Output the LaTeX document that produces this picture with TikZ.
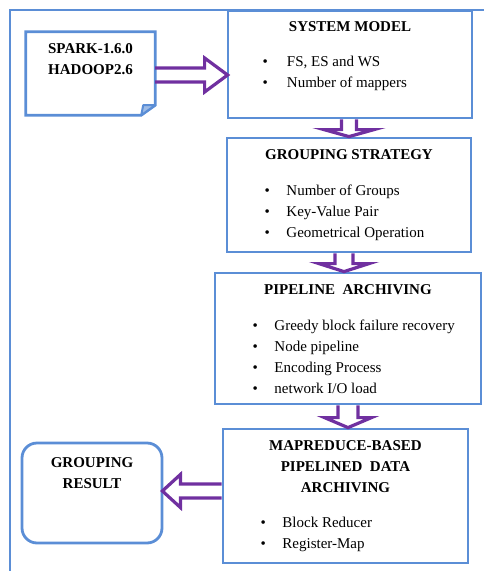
\documentclass[tikz,border=0pt]{standalone}
\usepackage{fontspec}
\setmainfont{Liberation Serif}
\usetikzlibrary{calc}
\definecolor{bordblue}{HTML}{5B8ED6}
\definecolor{arrpurple}{HTML}{7030A0}
\newcommand{\mylist}[2]{\begin{tabular}[t]{@{}l@{\hspace{#1}}l@{}}#2\end{tabular}}
\newcommand{\mytitle}[1]{\begin{tabular}[t]{@{}c@{}}#1\end{tabular}}
\newcommand{\vharrow}[6]{%
  \draw[harrow] let \p1=($(#1.south)+(#3,0)$), \p2=(#2.north) in
    (\x1-#4,\y1) -- (\x1-#4,\y2+#6) -- (\x1-#5,\y2+#6) -- (\x1,\y2)
    -- (\x1+#5,\y2+#6) -- (\x1+#4,\y2+#6) -- (\x1+#4,\y1);}
\tikzset{
  box/.style={draw=bordblue, line width=2.8pt, rectangle, inner sep=0pt},
  rbox/.style={draw=bordblue, line width=2.8pt, rectangle, rounded corners=15pt, inner sep=0pt},
  ghost/.style={rectangle, inner sep=0pt},
  boxtitle/.style={font=\fontsize{15}{21}\selectfont\bfseries, anchor=base, inner sep=0pt},
  blist/.style={anchor=base west, inner sep=0pt},
  harrow/.style={draw=arrpurple, line width=3.2pt, line join=miter},
  frame/.style={draw=bordblue, line width=2pt},
}
\begin{document}
\begin{tikzpicture}[x=1pt, y=-1pt, font=\fontsize{15}{21.3}\selectfont]
\useasboundingbox (0,0) rectangle (483,571);
% outer frame (only left and top visible)
\draw[frame] (10,580) -- (10,10) -- (495,10);

% boxes (geometry)
\node[ghost, minimum width=129pt, minimum height=83pt] (spark) at (90.5,73.5) {};
\node[box, minimum width=244pt, minimum height=107pt] (sm) at (350,64.5) {};
\node[box, minimum width=244pt, minimum height=114pt] (gs) at (349,195) {};
\node[box, minimum width=266pt, minimum height=131pt] (pa) at (348,338.5) {};
\node[box, minimum width=245pt, minimum height=134pt] (mr) at (345.5,496) {};
\node[rbox, minimum width=140pt, minimum height=100pt] (gr) at (92,493) {};

% folded-corner document outline
\draw[bordblue, line width=2.8pt, line join=miter]
  (spark.north west) -- (spark.north east) -- ($(spark.south east)+(0,-10)$)
  -- ($(spark.south east)+(-14,0)$) -- (spark.south west) -- cycle;
\filldraw[draw=bordblue, fill=bordblue!60, line width=2pt, line join=round]
  ($(spark.south east)+(-14,0)$) -- ($(spark.south east)+(-12,-10)$) -- ($(spark.south east)+(0,-10)$) -- cycle;

% hollow arrows
\draw[harrow] let \p1=($(spark.east)+(0,1.5)$), \p2=(sm.west) in
  (\x1,\y1+7pt) -- (\x2-22pt,\y1+7pt) -- (\x2-22pt,\y1+17pt) -- (\x2+1pt,\y1)
  -- (\x2-22pt,\y1-17pt) -- (\x2-22pt,\y1-7pt) -- (\x1,\y1-7pt);
\vharrow{sm}{gs}{-1}{7.5pt}{25pt}{7pt}
\vharrow{gs}{pa}{-5}{9pt}{25pt}{8pt}
\vharrow{pa}{mr}{0}{10pt}{23.5pt}{10pt}
\draw[harrow] let \p1=($(gr.east)+(0,-2)$), \p2=(mr.west) in
  (\x2,\y1+7pt) -- (\x1+17pt,\y1+7pt) -- (\x1+17pt,\y1+16.5pt) -- (\x1-1pt,\y1)
  -- (\x1+17pt,\y1-16.5pt) -- (\x1+17pt,\y1-7pt) -- (\x2,\y1-7pt);

% texts
\node[boxtitle] (sparkt) at (90.5,53) {\mytitle{SPARK-1.6.0\\HADOOP2.6}};

\node[boxtitle] (smt) at (350,31) {SYSTEM MODEL};
\node[blist] (sml) at (262.5,66) {\mylist{19pt}{\textbullet & FS, ES and WS\\ \textbullet & Number of mappers}};

\node[boxtitle] (gst) at (349,159) {GROUPING STRATEGY};
\node[blist] (gsl) at (264.5,195) {\mylist{16.5pt}{\textbullet & Number of Groups\\ \textbullet & Key-Value Pair\\ \textbullet & Geometrical Operation}};

\node[boxtitle] (pat) at (348,294) {PIPELINE\ \ ARCHIVING};
\node[blist] (pal) at (252.5,330) {\mylist{16.5pt}{\textbullet & Greedy block failure recovery\\ \textbullet & Node pipeline\\ \textbullet & Encoding Process\\ \textbullet & network I/O load}};

\node[boxtitle] (mrt) at (345.5,450) {\mytitle{MAPREDUCE-BASED\\PIPELINED\ \ DATA\\ARCHIVING}};
\node[blist] (mrl) at (260.5,527) {\mylist{16.5pt}{\textbullet & Block Reducer\\ \textbullet & Register-Map}};

\node[boxtitle] (grt) at (92,467) {\mytitle{GROUPING\\RESULT}};
\end{tikzpicture}
\end{document}
